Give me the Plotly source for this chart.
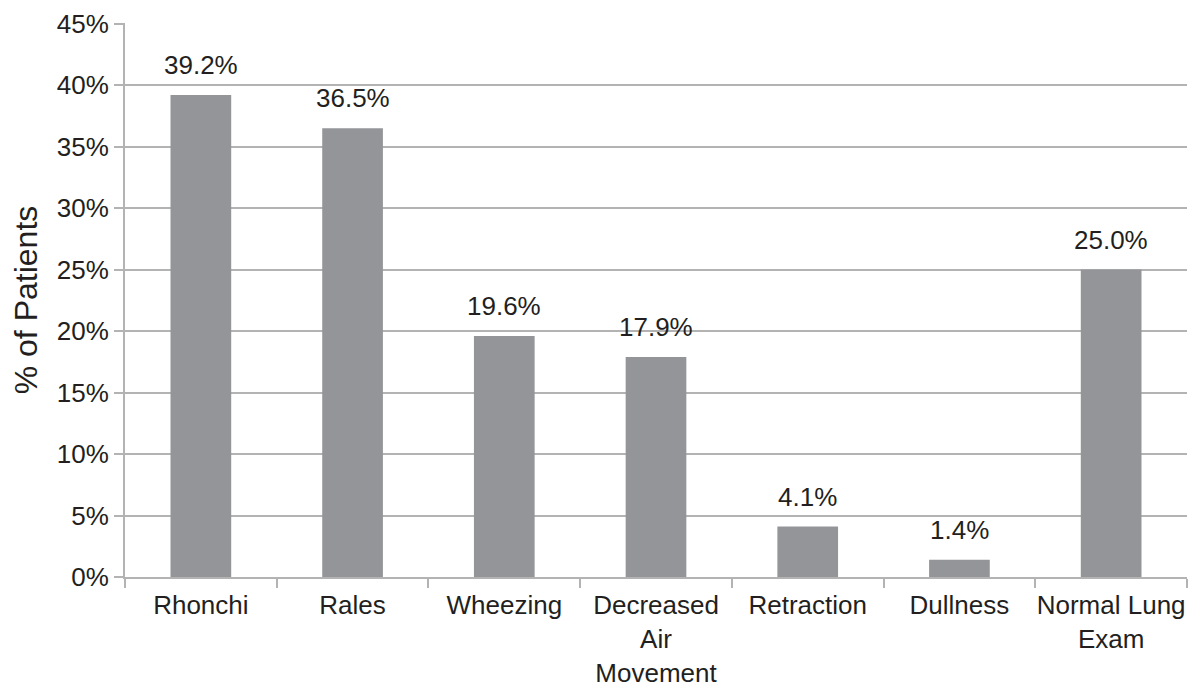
import plotly.graph_objects as go

categories = ["Rhonchi", "Rales", "Wheezing", "Decreased<br>Air<br>Movement",
              "Retraction", "Dullness", "Normal Lung<br>Exam"]
values = [39.2, 36.5, 19.6, 17.9, 4.1, 1.4, 25.0]
labels = ["39.2%", "36.5%", "19.6%", "17.9%", "4.1%", "1.4%", "25.0%"]
tick_vals = [0, 5, 10, 15, 20, 25, 30, 35, 40, 45]
tick_text = ["0%", "5%", "10%", "15%", "20%", "25%", "30%", "35%", "40%", "45%"]

FONT = "Liberation Sans, Arial, Helvetica, sans-serif"
TXT = "#231f20"
GRID = "#b3b3b3"

fig = go.Figure(go.Bar(
    x=categories, y=values,
    marker=dict(color="#939598", line=dict(width=0)),
    width=0.4, cliponaxis=False,
))

for c, v, t in zip(categories, values, labels):
    fig.add_annotation(x=c, y=v, text=t, showarrow=False, yanchor="bottom",
                       yshift=13, font=dict(size=26, color=TXT, family=FONT))

fig.update_layout(
    width=1200, height=690,
    margin=dict(l=117, r=21, t=15, b=121),
    plot_bgcolor="white", paper_bgcolor="white",
    font=dict(family=FONT, color=TXT, size=26),
    showlegend=False,
)
fig.update_yaxes(
    range=[0, 45.05], tickvals=tick_vals, ticktext=tick_text,
    showgrid=True, gridcolor=GRID, gridwidth=2,
    showline=True, linecolor=GRID, linewidth=2,
    ticks="outside", ticklen=9, tickcolor=GRID, tickwidth=2,
    tickfont=dict(size=26, color=TXT), ticklabeloverflow="allow",
    title=dict(text="% of Patients", font=dict(size=32, color=TXT), standoff=18),
    zeroline=False, automargin=False,
)
fig.update_xaxes(
    showline=True, linecolor=GRID, linewidth=2,
    ticks="outside", ticklen=9, tickcolor=GRID, tickwidth=2,
    tickson="boundaries", tickfont=dict(size=26, color=TXT),
    ticklabelstandoff=4, ticklabeloverflow="allow",
    tickangle=0, showgrid=False, automargin=False,
)

fig.write_html("out.html")
